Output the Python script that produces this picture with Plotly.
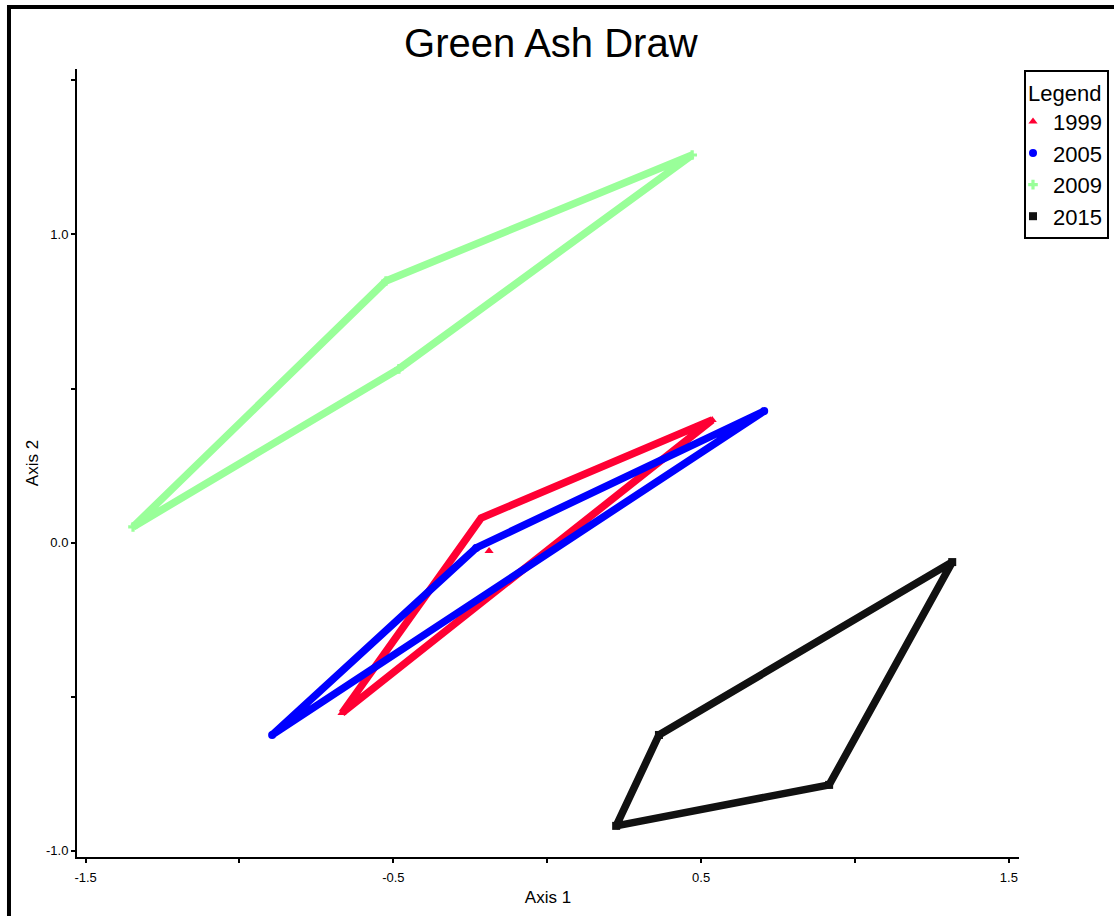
import plotly.graph_objects as go

# ---- data ----
years = ["1999", "2005", "2009", "2015"]
colors = ["#ff0033", "#0000ff", "#99ff99", "#111111"]
symbols = ["triangle-up", "circle", "cross", "square"]

pts_1999_x = [-0.667, -0.215, 0.536, -0.189]
pts_1999_y = [-0.553, 0.080, 0.398, -0.027]
hull_1999 = [0, 1, 2]

pts_2005_x = [-0.894, -0.231, 0.705]
pts_2005_y = [-0.624, -0.017, 0.427]
hull_2005 = [0, 1, 2]

pts_2009_x = [-1.346, -0.524, 0.471, -0.482]
pts_2009_y = [0.051, 0.849, 1.258, 0.564]
hull_2009 = [0, 1, 2, 3]

pts_2015_x = [0.224, 0.363, 1.316, 0.916]
pts_2015_y = [-0.919, -0.624, -0.063, -0.786]
hull_2015 = [0, 1, 2, 3]

x_tickvals = [-1.5, -1.0, -0.5, 0.0, 0.5, 1.0, 1.5]
x_ticktext = ["-1.5", "", "-0.5", "", "0.5", "", "1.5"]
y_tickvals = [-1.0, -0.5, 0.0, 0.5, 1.0, 1.5]
y_ticktext = ["-1.0", "", "0.0", "", "1.0", ""]

groups = [
    (pts_1999_x, pts_1999_y, hull_1999),
    (pts_2005_x, pts_2005_y, hull_2005),
    (pts_2009_x, pts_2009_y, hull_2009),
    (pts_2015_x, pts_2015_y, hull_2015),
]

FONT = "Liberation Sans, Arial, sans-serif"

fig = go.Figure()
for (px, py, hull), yr, col, sym in zip(groups, years, colors, symbols):
    order = hull + [hull[0]]
    fig.add_trace(go.Scatter(
        x=[px[i] for i in order], y=[py[i] for i in order],
        mode="lines", line=dict(color=col, width=7.5),
        showlegend=False, hoverinfo="skip",
    ))
    fig.add_trace(go.Scatter(
        x=px, y=py, mode="markers", name=yr,
        marker=dict(symbol=sym, color=col, size=8, line=dict(width=0)),
    ))

fig.update_layout(
    width=1114, height=916,
    margin=dict(l=77, r=95, t=69, b=59, autoexpand=False),
    paper_bgcolor="white", plot_bgcolor="white",
    font=dict(family=FONT, color="black"),
    title=dict(text="Green Ash Draw", x=0.503, xref="paper", xanchor="center",
               y=1 - 43 / 916, yref="container", yanchor="middle",
               font=dict(size=40, family=FONT, color="black")),
    legend=dict(
        title=dict(text="Legend", font=dict(size=22, family=FONT)),
        font=dict(size=22, family=FONT, color="black"),
        xref="container", yref="container",
        x=1024 / 1114, y=1 - 70 / 916, xanchor="left", yanchor="top",
        bordercolor="black", borderwidth=2, bgcolor="white",
        itemwidth=30, tracegroupgap=0, indentation=-13,
    ),
    xaxis=dict(
        range=[-1.528, 1.533], showgrid=False, zeroline=False,
        showline=True, linecolor="black", linewidth=2,
        ticks="outside", ticklen=4, tickwidth=2, tickcolor="black",
        tickvals=x_tickvals, ticktext=x_ticktext, ticklabelstandoff=3,
        tickfont=dict(size=13, family=FONT, color="black"),
        title=dict(text="Axis 1", font=dict(size=17, family=FONT), standoff=8),
    ),
    yaxis=dict(
        range=[-1.020, 1.537], showgrid=False, zeroline=False,
        showline=True, linecolor="black", linewidth=2,
        ticks="outside", ticklen=4, tickwidth=2, tickcolor="black",
        tickvals=y_tickvals, ticktext=y_ticktext, ticklabelstandoff=0,
        tickfont=dict(size=13, family=FONT, color="black"),
        title=dict(text="Axis 2", font=dict(size=17, family=FONT), standoff=3),
    ),
    shapes=[dict(type="rect", xref="paper", yref="paper",
                 x0=-0.0722, x1=1.12, y0=-0.09, y1=1.0787,
                 line=dict(color="black", width=4), layer="below")],
)

fig.write_html("out.html")
